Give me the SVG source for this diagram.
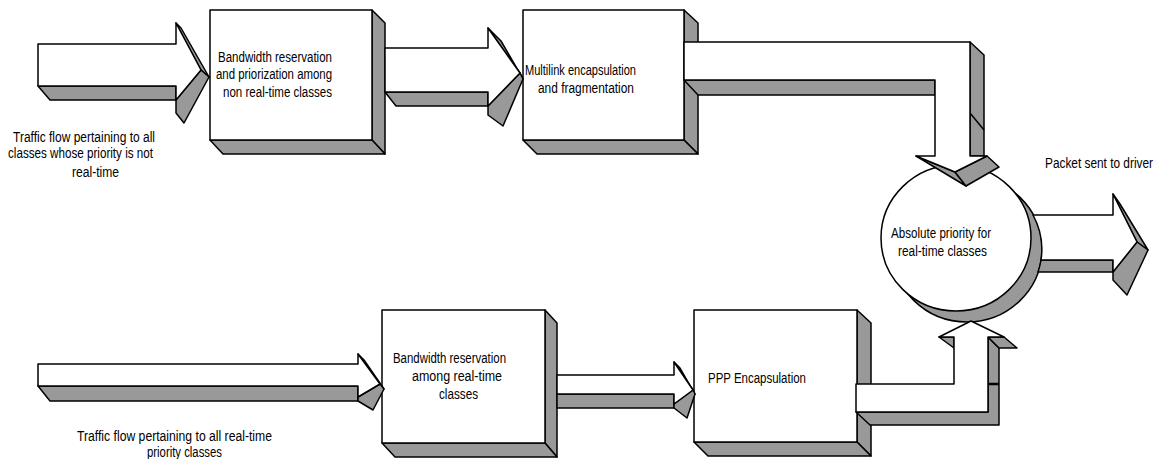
<svg xmlns="http://www.w3.org/2000/svg" width="1163" height="459" viewBox="0 0 1163 459">
<style>
.f{fill:#fff;stroke:#000;stroke-width:1.5;stroke-linejoin:round}
.s{fill:#999;stroke:#000;stroke-width:1.5;stroke-linejoin:round}
.ln{fill:none;stroke:#000;stroke-width:1.5}
text{font-family:"Liberation Sans",Arial,sans-serif;font-size:14px;fill:#000}
</style>
<rect width="1163" height="459" fill="#fff"/>

<g id="box1">
<polygon class="s" points="372,10 385,23 385,154 372,140"/>
<polygon class="s" points="210,140 372,140 385,154 223,154"/>
<rect class="f" x="210" y="10" width="162" height="130"/>
<text x="218" y="62" textLength="114" lengthAdjust="spacingAndGlyphs">Bandwidth reservation</text>
<text x="216" y="79" textLength="116" lengthAdjust="spacingAndGlyphs">and priorization among</text>
<text x="223" y="97" textLength="109" lengthAdjust="spacingAndGlyphs">non real-time classes</text>
</g>

<g id="box2">
<polygon class="s" points="684,10 698,23 698,154 684,140"/>
<polygon class="s" points="523,140 684,140 698,154 537,154"/>
<rect class="f" x="523" y="10" width="161" height="130"/>
<text x="525" y="75" textLength="111" lengthAdjust="spacingAndGlyphs">Multilink encapsulation</text>
<text x="538" y="93" textLength="96" lengthAdjust="spacingAndGlyphs">and fragmentation</text>
</g>

<g id="box3">
<polygon class="s" points="545,310 557,323 557,457 545,443"/>
<polygon class="s" points="382,443 545,443 557,457 395,457"/>
<rect class="f" x="382" y="310" width="163" height="133"/>
<text x="393" y="363" textLength="113" lengthAdjust="spacingAndGlyphs">Bandwidth reservation</text>
<text x="412" y="381" textLength="90" lengthAdjust="spacingAndGlyphs">among real-time</text>
<text x="439" y="399" textLength="39" lengthAdjust="spacingAndGlyphs">classes</text>
</g>

<g id="box4">
<polygon class="s" points="857,310 871,323 871,456 857,442"/>
<polygon class="s" points="694,442 857,442 871,456 708,456"/>
<rect class="f" x="694" y="310" width="163" height="132"/>
<text x="708" y="383" textLength="98" lengthAdjust="spacingAndGlyphs">PPP Encapsulation</text>
</g>

<g id="circle">
<ellipse class="s" cx="967" cy="249" rx="75" ry="73"/>
<ellipse class="f" cx="956" cy="238" rx="75" ry="73"/>
<text x="891" y="238" textLength="100" lengthAdjust="spacingAndGlyphs">Absolute priority for</text>
<text x="898" y="256" textLength="89" lengthAdjust="spacingAndGlyphs">real-time classes</text>
</g>

<g id="connectors">
<g id="a1">
<polygon class="s" points="38,86 50,100 176,100 176,86"/>
<polygon class="s" points="176,23 181,28 209,77 201,70"/>
<polygon class="s" points="176,100 201,70 209,77 184,123 176,113"/>
<polygon class="f" points="38,44 176,44 176,23 201,70 176,100 176,86 38,86"/>
</g>
<g id="a2">
<polygon class="s" points="385,92 396,106 488,106 488,92"/>
<polygon class="s" points="488,28 501,41 523,79 520,73"/>
<polygon class="s" points="488,106 520,73 523,79 503,126 488,115"/>
<polygon class="f" points="385,48 488,48 488,28 520,73 488,106 488,92 385,92"/>
</g>
<g id="a3">
<polygon class="s" points="684,80 698,95 935,95 935,80"/>
<polygon class="s" points="970,42 984,55 984,156 970,156"/>
<line class="ln" x1="970" y1="113" x2="984" y2="130"/>
<polygon class="s" points="916,156 955,172 966,186"/>
<polygon class="s" points="955,172 987,156 999,167 966,186"/>
<polygon class="f" points="684,42 970,42 970,156 987,156 955,172 916,156 935,156 935,80 684,80"/>
</g>
<g id="a4">
<path class="s" d="M1041,260 L1113,260 L1113,272 L1038,272 A75,73 0 0 0 1041,260 Z"/>
<polygon class="s" points="1113,194 1120,204 1148,250 1137,242"/>
<polygon class="s" points="1113,272 1137,242 1148,250 1127,295 1113,280"/>
<path class="f" d="M1033,215 L1113,215 L1113,194 L1137,242 L1113,272 L1113,260 L1041,260 A75,73 0 0 0 1033,215 Z"/>
</g>
<g id="b1">
<polygon class="s" points="38,386 50,401 358,401 358,386"/>
<polygon class="s" points="358,354 364,360 384,389 380,384"/>
<polygon class="s" points="358,397 380,384 384,389 373,410 358,401"/>
<polygon class="f" points="38,364 358,364 358,354 380,384 358,397 358,386 38,386"/>
</g>
<g id="b2">
<polygon class="s" points="557,394 557,408 674,408 674,394"/>
<polygon class="s" points="674,362 680,368 695,394 693,390"/>
<polygon class="s" points="674,404 693,390 695,394 687,418 674,408"/>
<polygon class="f" points="557,375 674,375 674,362 693,390 674,404 674,394 557,394"/>
</g>
<g id="b3">
<polygon class="s" points="856,412 988,412 988,337 999,348 999,425 870,425"/>
<polygon class="s" points="988,337 1004,337 1017,348 999,348"/>
<polygon class="s" points="939,337 954,337 954,348"/>
<polygon class="f" points="856,384 954,384 954,337 939,337 971,321 1004,337 988,337 988,412 856,412"/>
<line x1="988" y1="384" x2="999" y2="384" stroke="#000" stroke-width="2.5"/>
</g>
</g>

<g id="labels">
<text x="13" y="142" textLength="142" lengthAdjust="spacingAndGlyphs">Traffic flow pertaining to all</text>
<text x="8" y="158" textLength="145" lengthAdjust="spacingAndGlyphs">classes whose priority is not</text>
<text x="72" y="177" textLength="47" lengthAdjust="spacingAndGlyphs">real-time</text>
<text x="1045" y="168" textLength="108" lengthAdjust="spacingAndGlyphs">Packet sent to driver</text>
<text x="77" y="441" textLength="195" lengthAdjust="spacingAndGlyphs">Traffic flow pertaining to all real-time</text>
<text x="147" y="457" textLength="75" lengthAdjust="spacingAndGlyphs">priority classes</text>
</g>
</svg>
